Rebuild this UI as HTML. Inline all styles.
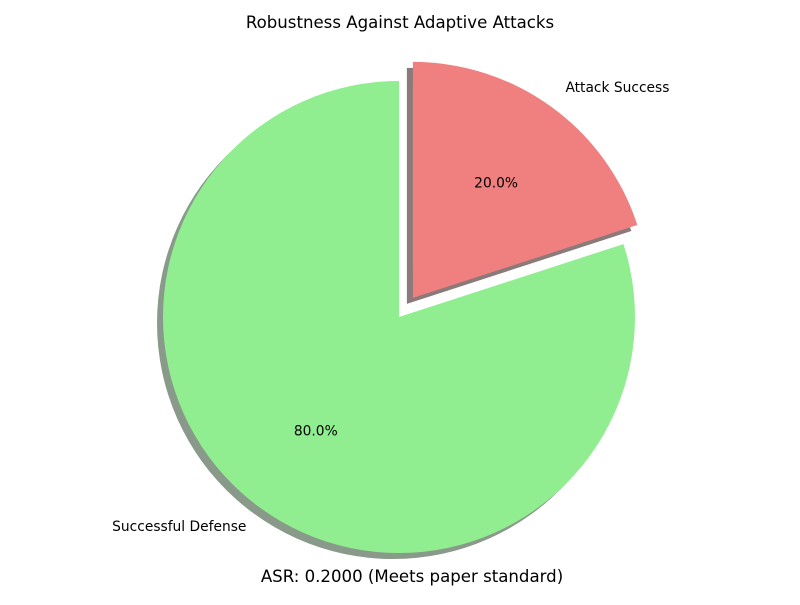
<!DOCTYPE html>
<html><head><meta charset="utf-8"><style>
body{margin:0;background:#fff;}
svg text{font-family:"DejaVu Sans","Liberation Sans",sans-serif;}
</style></head><body>
<svg id="chart" width="800" height="600">
<text x="400" y="28" text-anchor="middle" font-size="16.6">Robustness Against Adaptive Attacks</text>
<g id="shadows"></g><g id="slices"></g><g id="labels"></g>
<text x="412" y="582" text-anchor="middle" font-size="16.6">ASR: 0.2000 (Meets paper standard)</text>
</svg>
<script>
const categories = ["Attack Success", "Successful Defense"];
const values = [20, 80];
const colors = ["#f08080", "#90ee90"];
const shadowColors = ["#8a7a7a", "#8a9a8a"];
const explode = [0.1, 0];
const cx = 399, cy = 317, R = 236;
const ns = "http://www.w3.org/2000/svg";
const total = values.reduce((a, b) => a + b, 0);
function pt(x, y, r, deg) { const a = deg * Math.PI / 180; return [x + r * Math.cos(a), y - r * Math.sin(a)]; }
function wedge(x, y, a1, a2) {
  const p1 = pt(x, y, R, a1), p2 = pt(x, y, R, a2);
  const large = (a1 - a2) > 180 ? 1 : 0;
  return `M${x},${y} L${p1[0]},${p1[1]} A${R},${R} 0 ${large} 1 ${p2[0]},${p2[1]} Z`;
}
let start = 90;
const sh = document.getElementById('shadows'), sl = document.getElementById('slices'), lb = document.getElementById('labels');
values.forEach((v, i) => {
  const sweep = v / total * 360, end = start - sweep, mid = (start + end) / 2;
  const off = pt(0, 0, explode[i] * R, mid);
  const x = cx + off[0], y = cy + off[1];
  const s = document.createElementNS(ns, 'path');
  s.setAttribute('d', wedge(x - 6, y + 6, start, end));
  s.setAttribute('fill', shadowColors[i]);
  
  
  sh.appendChild(s);
  const p = document.createElementNS(ns, 'path');
  p.setAttribute('d', wedge(x, y, start, end));
  p.setAttribute('fill', colors[i]);
  
  
  sl.appendChild(p);
  const lp = pt(x, y, 1.1 * R, mid);
  const t = document.createElementNS(ns, 'text');
  t.setAttribute('x', lp[0]); t.setAttribute('y', lp[1] + 4);
  t.setAttribute('font-size', '13.8');
  t.setAttribute('text-anchor', Math.cos(mid * Math.PI / 180) >= 0 ? 'start' : 'end');
  t.textContent = categories[i];
  
  
  lb.appendChild(t);
  const pp = pt(x, y, 0.6 * R, mid);
  const q = document.createElementNS(ns, 'text');
  q.setAttribute('x', pp[0]); q.setAttribute('y', pp[1] + 4);
  q.setAttribute('font-size', '13.8'); q.setAttribute('text-anchor', 'middle');
  q.textContent = (v / total * 100).toFixed(1) + '%';
  
  
  lb.appendChild(q);
  start = end;
});
</script>
</body></html>
